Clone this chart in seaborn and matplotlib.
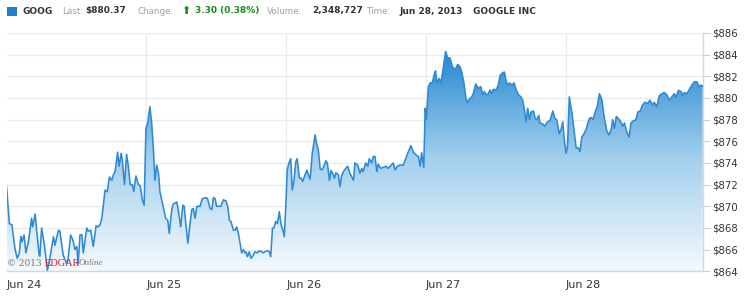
import numpy as np
import matplotlib
matplotlib.use("Agg")
import matplotlib.pyplot as plt
from matplotlib.colors import LinearSegmentedColormap
import seaborn as sns

# ---------------- data ----------------
ticker = "GOOG"
last_price = "$880.37"
change = "3.30 (0.38%)"
volume = "2,348,727"
time_str = "Jun 28, 2013"
company = "GOOGLE INC"

day_labels = ["Jun 24", "Jun 25", "Jun 26", "Jun 27", "Jun 28"]
session_minutes = 390
y_ticks = [864, 866, 868, 870, 872, 874, 876, 878, 880, 882, 884, 886]

# trading minutes elapsed since the Jun 24 open
minutes = [0, 8, 15, 24, 30, 36, 40, 43, 49, 54, 61, 70, 73, 80, 84, 91, 93, 98, 105, 114,
           121, 131, 135, 145, 149, 158, 168, 172, 179, 185, 191, 196, 200, 205, 210, 214, 224, 228, 235, 242,
           250, 256, 261, 266, 275, 281, 287, 294, 298, 303, 310, 314, 320, 323, 329, 335, 340, 345, 351, 355,
           361, 368, 373, 379, 384, 389, 394, 400, 405, 410, 414, 419, 424, 428, 437, 444, 450, 454, 461, 465,
           475, 479, 486, 492, 496, 500, 506, 512, 517, 521, 526, 531, 540, 546, 556, 561, 568, 573, 577, 582,
           586, 593, 598, 605, 612, 617, 622, 626, 633, 638, 642, 647, 656, 661, 665, 668, 672, 677, 682, 689,
           693, 700, 705, 712, 716, 721, 728, 733, 737, 742, 746, 751, 756, 761, 766, 771, 775, 780, 783, 788,
           793, 797, 802, 807, 811, 817, 822, 826, 833, 838, 842, 847, 853, 861, 865, 870, 875, 879, 884, 891,
           895, 901, 905, 910, 915, 919, 926, 930, 935, 940, 944, 952, 958, 968, 972, 980, 986, 991, 995, 1002,
           1008, 1012, 1019, 1023, 1028, 1033, 1037, 1044, 1051, 1058, 1065, 1073, 1079, 1084, 1090, 1098, 1107, 1117, 1128, 1135,
           1144, 1149, 1154, 1158, 1164, 1168, 1171, 1177, 1182, 1188, 1194, 1197, 1201, 1207, 1212, 1219, 1225, 1231, 1237, 1244,
           1251, 1259, 1265, 1270, 1276, 1282, 1286, 1291, 1298, 1302, 1309, 1316, 1323, 1329, 1333, 1338, 1344, 1349, 1354, 1358,
           1366, 1372, 1377, 1383, 1389, 1393, 1397, 1403, 1410, 1416, 1422, 1428, 1435, 1440, 1445, 1449, 1454, 1459, 1463, 1470,
           1475, 1479, 1485, 1488, 1496, 1502, 1509, 1516, 1524, 1530, 1535, 1542, 1547, 1552, 1556, 1561, 1565, 1570, 1577, 1583,
           1589, 1595, 1600, 1605, 1611, 1617, 1622, 1626, 1631, 1636, 1642, 1648, 1654, 1661, 1668, 1675, 1681, 1687, 1691, 1696,
           1701, 1707, 1714, 1719, 1724, 1730, 1737, 1742, 1749, 1756, 1761, 1768, 1774, 1781, 1789, 1795, 1802, 1807, 1814, 1821,
           1828, 1835, 1842, 1849, 1856, 1863, 1868, 1874, 1882, 1886, 1891, 1898, 1904, 1912, 1919, 1926, 1932, 1938, 1942]

prices = [871.9, 868.4, 868.3, 866.0, 865.2, 865.7, 867.2, 866.7, 867.35, 865.7, 866.7, 868.9, 868.1, 869.3, 867.8, 865.5, 865.4, 868.0, 866.6, 864.1,
          865.2, 867.2, 866.4, 867.8, 867.7, 865.5, 864.7, 865.2, 867.35, 866.9, 866.0, 866.3, 864.7, 867.35, 867.4, 865.7, 868.0, 867.7, 867.8, 866.3,
          868.2, 868.1, 868.3, 868.9, 871.5, 871.35, 872.7, 872.4, 872.9, 873.2, 875.0, 873.7, 874.9, 874.3, 872.0, 874.8, 873.7, 872.0, 872.0, 871.35,
          872.8, 872.0, 871.9, 870.6, 870.1, 877.2, 877.7, 879.2, 877.7, 875.2, 872.4, 873.8, 873.05, 871.35, 870.0, 868.9, 868.7, 867.5, 869.7, 870.2,
          870.4, 869.7, 868.1, 870.1, 870.0, 868.4, 866.6, 868.4, 869.7, 869.8, 868.9, 870.0, 870.0, 870.7, 870.8, 870.7, 869.8, 869.7, 870.8, 870.7,
          870.0, 870.0, 870.0, 870.6, 870.5, 870.0, 868.7, 868.6, 867.8, 867.8, 868.1, 867.5, 865.7, 866.0, 865.7, 865.8, 865.35, 865.8, 865.2, 865.5,
          865.8, 865.7, 865.9, 865.8, 865.7, 865.8, 865.9, 865.8, 865.35, 868.0, 868.0, 868.6, 868.4, 869.5, 868.3, 867.8, 867.2, 870.6, 873.35, 874.0,
          874.4, 871.5, 872.4, 874.1, 874.4, 872.6, 872.6, 872.3, 872.9, 873.35, 872.9, 872.5, 874.9, 876.6, 875.8, 875.2, 873.45, 873.35, 873.6, 874.2,
          874.0, 872.4, 873.3, 873.05, 872.6, 873.1, 872.9, 871.8, 872.8, 873.2, 873.4, 873.7, 873.05, 872.4, 874.0, 873.8, 873.05, 873.5, 873.2, 874.0,
          873.7, 874.4, 874.0, 874.6, 874.6, 873.2, 873.9, 873.5, 873.6, 873.7, 873.5, 873.8, 874.0, 873.35, 873.7, 873.8, 873.8, 874.7, 875.6, 875.0,
          874.7, 874.6, 873.7, 874.95, 873.6, 879.05, 878.0, 881.05, 881.4, 881.4, 882.3, 882.5, 881.4, 881.8, 881.4, 882.9, 884.3, 883.7, 883.7, 882.9,
          882.6, 883.1, 882.9, 882.4, 881.4, 879.9, 879.6, 879.9, 880.1, 880.4, 881.3, 880.9, 881.05, 880.3, 880.6, 880.3, 880.4, 880.75, 880.4, 880.8,
          880.75, 881.2, 882.1, 882.3, 882.4, 881.7, 881.2, 881.4, 881.2, 881.4, 880.75, 880.3, 880.1, 879.8, 878.9, 877.8, 879.05, 878.0, 878.7, 878.8,
          878.1, 878.0, 878.4, 877.7, 877.6, 877.4, 877.8, 877.9, 878.8, 878.1, 878.0, 876.7, 877.1, 877.8, 876.1, 874.9, 875.5, 880.1, 878.7, 877.1,
          875.4, 875.4, 875.05, 876.4, 876.7, 877.1, 877.7, 878.1, 878.2, 878.0, 878.7, 879.2, 880.4, 879.8, 878.1, 876.9, 876.6, 877.1, 878.0, 877.2,
          878.3, 878.1, 877.8, 877.4, 877.7, 876.9, 876.4, 877.7, 877.9, 878.0, 878.7, 878.8, 879.35, 879.6, 879.5, 879.8, 879.35, 879.6, 879.2, 880.2,
          880.4, 880.5, 880.3, 879.8, 880.1, 880.4, 880.05, 880.7, 880.6, 880.2, 880.5, 880.4, 880.75, 881.2, 881.5, 881.5, 881.05, 881.2, 881.05]

# ---------------- figure ----------------
sns.set_theme(style="white")
plt.rcParams["font.family"] = ["DejaVu Sans"]

W, H = 750, 296
fig = plt.figure(figsize=(W / 100, H / 100), dpi=100)
fig.patch.set_facecolor("white")

def fx(px):
    return px / W

def fy(py):
    return 1 - py / H

left, right, top, bottom = 6.5, 703.0, 33.0, 271.3
ax = fig.add_axes([fx(left), fy(bottom), fx(right) - fx(left), fy(top) - fy(bottom)])
ax.set_facecolor("white")

t = np.array(minutes, dtype=float)
p = np.array(prices, dtype=float)
ymin, ymax = y_ticks[0], y_ticks[-1]
xmax = t[-1] + 1

# gradient fill clipped to area under curve
poly = ax.fill_between(t, p, ymin, color="none", linewidth=0, zorder=1)
cmap = LinearSegmentedColormap.from_list("g", ["#f5f9fd", "#a2cfed", "#1c82cf"])
grad = np.linspace(0, 1, 256).reshape(-1, 1)
img = ax.imshow(grad, extent=[0, xmax, ymin, 885.0], origin="lower", aspect="auto",
                cmap=cmap, zorder=1, interpolation="bicubic")
img.set_clip_path(poly.get_paths()[0], transform=ax.transData)

sns.lineplot(x=t, y=p, ax=ax, color="#2f8ad6", linewidth=1.15, zorder=3)

ax.set_xlim(0, xmax)
ax.set_ylim(ymin, ymax)

# grid
for yv in y_ticks:
    ax.axhline(yv, color="#ebebeb", linewidth=1.0, zorder=0)
day_pos = [i * session_minutes for i in range(len(day_labels))]
for xv in day_pos[1:]:
    ax.axvline(xv, color="#ebebeb", linewidth=1.0, zorder=0)

# axes styling
for s in ["top", "left"]:
    ax.spines[s].set_visible(False)
ax.spines["bottom"].set_color("#cfd8e0")
ax.spines["right"].set_color("#cfd8e0")
ax.spines["bottom"].set_linewidth(1.0)
ax.spines["right"].set_linewidth(1.0)

ax.yaxis.tick_right()
ax.set_yticks(y_ticks)
ax.set_yticklabels([f"${v}" for v in y_ticks])
ax.tick_params(axis="y", which="both", right=True, left=False, direction="out", length=5,
               width=0.8, color="#c8d0d8", labelsize=7.3, labelcolor="#333333", pad=1.5)

ax.set_xticks(day_pos)
ax.set_xticklabels(day_labels)
ax.tick_params(axis="x", which="both", bottom=True, direction="in", length=3, width=0.8,
               color="#c8d0d8", labelsize=8, labelcolor="#333333", pad=6)
for lbl in ax.get_xticklabels():
    lbl.set_horizontalalignment("left")
ax.set_xlabel("")
ax.set_ylabel("")

# ---------------- header ----------------
hy = fy(11)
fig.patches.append(plt.Rectangle((fx(6.5), fy(15.5)), fx(10.5), 8.5 / H, transform=fig.transFigure,
                                 facecolor="#1d7fd1", edgecolor="none"))
lab = dict(va="center", ha="left", fontsize=6.3, color="#a0a0a0")
val = dict(va="center", ha="left", fontsize=6.5, fontweight="bold")
fig.text(fx(22.5), hy, ticker, color="#333333", **val)
fig.text(fx(62.5), hy, "Last:", **lab)
fig.text(fx(85), hy, last_price, color="#333333", **val)
fig.text(fx(137.5), hy, "Change:", **lab)
fig.text(fx(181), hy, "\u2b06", color="#1a8c1a", va="center", ha="left", fontsize=8)
fig.text(fx(195), hy, change, color="#1a8c1a", **val)
fig.text(fx(266.5), hy, "Volume:", **lab)
fig.text(fx(312), hy, volume, color="#333333", **val)
fig.text(fx(366.5), hy, "Time:", **lab)
fig.text(fx(399), hy, time_str, color="#333333", **val)
fig.text(fx(473), hy, company, color="#333333", **val)

# ---------------- watermark ----------------
wy = fy(263)
t1 = fig.text(fx(7), wy, "\u00a9 2013 ", color="#777777", fontsize=6.5, family="DejaVu Serif",
              va="center", ha="left")
fig.canvas.draw()
r = fig.canvas.get_renderer()
bb = t1.get_window_extent(r)
t2 = fig.text(bb.x1 / W, wy, "EDGAR", color="#d0202e", fontsize=7.5, family="Liberation Serif",
              va="center", ha="left")
bb2 = t2.get_window_extent(r)
fig.text(bb2.x1 / W - 0.002, wy, "Online", color="#777777", fontsize=6.5, family="Liberation Serif",
         style="italic", va="center", ha="left")

fig.savefig("out.png", dpi=100, facecolor="white")
